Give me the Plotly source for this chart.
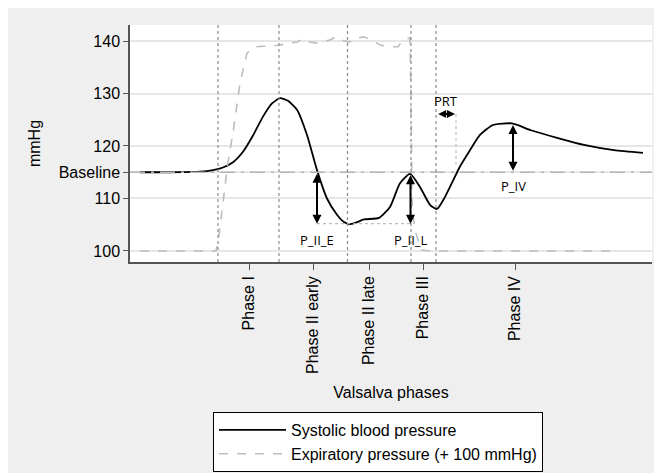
import plotly.graph_objects as go

# ---------------- data (time in arbitrary units, pressure in mmHg) ----------------
sbp_t = [1.0, 4.0, 7.0, 8.3, 9.3, 10.3, 11.3, 12.3, 13.3, 14.2, 15.0, 15.8, 16.7, 17.7,
         18.7, 19.7, 20.7, 21.4, 21.9, 22.6, 23.4, 24.9, 26.0, 27.0, 28.0, 29.0, 30.0,
         30.7, 31.5, 33.0, 34.0, 35.0, 36.3, 38.2, 40.1, 42.8, 45.4, 48.4, 51.3]
sbp_v = [115.0, 115.0, 115.1, 115.4, 115.9, 116.9, 118.9, 122.0, 125.6, 128.1, 129.1,
         128.6, 126.9, 122.1, 115.4, 110.0, 106.9, 105.5, 105.1, 105.4, 106.0, 106.3,
         108.4, 112.9, 114.7, 112.2, 108.8, 108.0, 110.3, 116.1, 119.2, 122.1, 124.0,
         124.3, 123.0, 121.5, 120.2, 119.2, 118.7]

exp_t = [1.0, 8.6, 8.9, 9.3, 9.8, 10.3, 11.0, 11.7, 12.5, 13.3, 14.9, 16.0, 16.7, 17.3,
         18.0, 18.7, 20.0, 20.6, 21.1, 21.9, 22.8, 23.4, 24.4, 25.1, 26.1, 26.8, 27.3,
         28.0, 28.1, 28.2, 28.3, 28.6, 29.1, 30.0, 48.4]
exp_v = [100.0, 100.0, 103.0, 109.7, 117.0, 122.5, 132.0, 137.7, 138.9, 139.0, 139.2,
         139.6, 139.8, 140.4, 139.8, 139.6, 140.2, 140.8, 140.2, 139.8, 140.6, 140.8,
         139.8, 139.2, 138.9, 138.9, 140.2, 140.6, 130.0, 110.0, 106.5, 103.4, 100.2,
         100.0, 100.0]

baseline = 115
phase_bounds = [8.8, 14.9, 21.75, 28.1, 30.6]
phase_ticks = [11.9, 18.3, 23.9, 29.3, 38.5]
phase_labels = ["Phase I", "Phase II early", "Phase II late", "Phase III", "Phase IV"]
y_ticks = [100, 110, 115, 120, 130, 140]
y_labels = ["100", "110", "Baseline", "120", "130", "140"]

# measured quantities
p2e_t, p2e_min = 18.7, 105.2
p2l_t, p2l_peak = 28.05, 114.7
prt_t0, prt_t1, prt_y = 30.67, 32.5, 126.1
prt_curve = 116.4
p4_t, p4_peak = 38.3, 124.3

x_range = [0, 52.2]
y_range = [97.9, 143.05]

fig = go.Figure()

fig.add_trace(go.Scatter(x=sbp_t, y=sbp_v, mode="lines", name="Systolic blood pressure",
                         line=dict(color="black", width=1.8, shape="spline", smoothing=0.6)))
fig.add_trace(go.Scatter(x=exp_t, y=exp_v, mode="lines", name="Expiratory pressure (+ 100 mmHg)",
                         line=dict(color="#bdbdbd", width=1.6, dash="dash")))

# baseline
fig.add_shape(type="line", xref="paper", yref="y", x0=0, x1=1, y0=baseline, y1=baseline,
              line=dict(color="#b5b5b5", width=1.5, dash="longdashdot"))

# phase boundaries
for b in phase_bounds:
    fig.add_shape(type="line", xref="x", yref="paper", x0=b, x1=b, y0=0, y1=1,
                  line=dict(color="#8a8a8a", width=1.2, dash="dot"))

# thin helper lines
fig.add_shape(type="line", x0=p2e_t, x1=p2l_t, y0=p2e_min, y1=p2e_min,
              line=dict(color="#b0b0b0", width=1, dash="dot"))
fig.add_shape(type="line", x0=prt_t1 + 0.1, x1=prt_t1 + 0.1, y0=prt_y, y1=prt_curve,
              line=dict(color="#b0b0b0", width=1, dash="dot"))

# arrows
def darrow(x0, y0, x1, y1, size=0.9):
    fig.add_annotation(x=x1, y=y1, ax=x0, ay=y0, xref="x", yref="y", axref="x", ayref="y",
                       text="", showarrow=True, arrowhead=2, startarrowhead=2,
                       arrowside="end+start", arrowsize=size, startarrowsize=size,
                       arrowwidth=2, arrowcolor="black", standoff=0, startstandoff=0)

darrow(p2e_t, baseline, p2e_t, p2e_min)
darrow(p2l_t, p2l_peak, p2l_t, p2e_min)
darrow(prt_t0, prt_y, prt_t1, prt_y, size=0.8)
darrow(p4_t, p4_peak, p4_t, baseline + 0.3)

lab_font = dict(family="Open Sans", size=13, color="black")
for tx, ty, txt in [(p2e_t, 102.1, "P_II_E"), (p2l_t, 102.1, "P_II_L"),
                    ((prt_t0 + prt_t1) / 2, 128.6, "PRT"), (p4_t, 112.4, "P_IV")]:
    fig.add_annotation(x=tx, y=ty, text=txt, showarrow=False, font=lab_font)

axis_font = dict(family="Liberation Sans", size=16, color="black")

fig.update_layout(
    width=662, height=473,
    margin=dict(l=122, r=18, t=17, b=219, autoexpand=False),
    paper_bgcolor="#efefef", plot_bgcolor="white",
    font=axis_font,
    showlegend=True,
    legend=dict(x=0.159, y=-0.633, xanchor="left", yanchor="top",
                bgcolor="white", bordercolor="black", borderwidth=1,
                font=dict(family="Liberation Sans", size=16, color="black"),
                itemwidth=67, tracegroupgap=0),
    xaxis=dict(range=x_range, tickvals=phase_ticks, ticktext=phase_labels, tickangle=-90,
               ticks="outside", ticklen=6, tickcolor="#555", showline=True, linecolor="#555",
               linewidth=1.5, showgrid=False, zeroline=False, tickfont=axis_font,
               automargin=False,
               title=dict(text="Valsalva phases", font=axis_font, standoff=14)),
    yaxis=dict(range=y_range, tickvals=y_ticks, ticktext=y_labels, ticks="outside",
               ticklen=5, tickcolor="#555", showline=True, linecolor="#555", linewidth=1.5,
               showgrid=True, gridcolor="#e6e6e6", gridwidth=1.5, zeroline=False,
               tickfont=axis_font, automargin=False,
               title=dict(text="mmHg", font=axis_font, standoff=14)),
)

fig.write_html("out.html")
